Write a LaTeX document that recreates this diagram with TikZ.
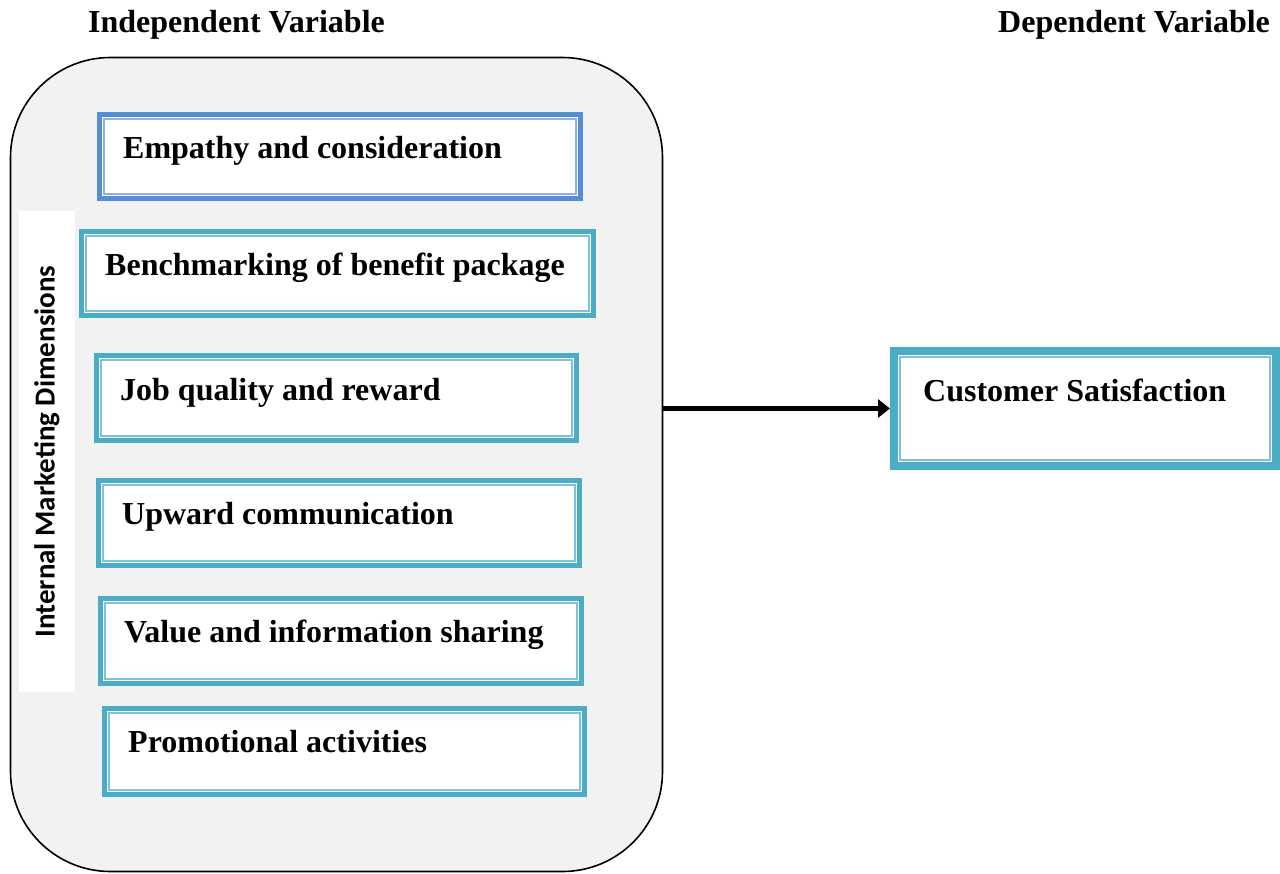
\documentclass[tikz,border=0pt]{standalone}
\usepackage{fontspec}
\setmainfont{Liberation Serif}
\newfontfamily\labelsans{Carlito}
\usetikzlibrary{arrows.meta}
\definecolor{panelgray}{HTML}{F2F2F2}
\definecolor{tealline}{HTML}{4BACC6}
\definecolor{tealinner}{HTML}{7DC3D6}
\definecolor{blueline}{HTML}{558ED5}
\definecolor{blueinner}{HTML}{8DB3E2}
\tikzset{
  x=1pt, y=-1pt,
  boxtext/.style={anchor=base west, inner sep=0pt, font=\fontsize{32}{38}\selectfont\bfseries},
  dimbox/.style={draw=tealline, fill=white, line width=5pt, inner sep=0pt},
  dimboxblue/.style={dimbox, draw=blueline},
  innerframe/.style={draw=tealinner, line width=1.5pt},
  innerframeblue/.style={innerframe, draw=blueinner},
}
% box given by outer pixel edges: left, top, right, bottom
\newcommand\dimframe[6]{%
  \node[#6, minimum width={#4-#2-5}, minimum height={#5-#3-5}]
    (#1) at ({(#2+#4)/2},{(#3+#5)/2}) {};
}
\begin{document}
\begin{tikzpicture}
\useasboundingbox (0,0) rectangle (1280,873);
\fill[white] (0,0) rectangle (1280,873);

% headings
\node[boxtext] (hind) at (88,32) {Independent Variable};
\node[boxtext] (hdep) at (998,32) {Dependent Variable};

% panel holding the dimensions
\node[draw=black, line width=1.6pt, fill=panelgray, rounded corners=100pt,
      minimum width=652pt, minimum height=814pt, inner sep=0pt]
  (panel) at (336.5,464.5) {};

% side label
\node[fill=white, minimum width=56pt, minimum height=481pt, inner sep=0pt]
  (band) at (47,451.5) {};
\node[rotate=90, inner sep=0pt, font=\fontsize{29}{34}\selectfont\labelsans\bfseries]
  (bandtext) at (band.center) {Internal Marketing Dimensions};

% dimension boxes
\dimframe{b1}{97}{112}{583}{201}{dimboxblue}
\dimframe{b2}{79}{229}{596}{318}{dimbox}
\dimframe{b3}{94}{353}{579}{443}{dimbox}
\dimframe{b4}{96}{478}{582}{568}{dimbox}
\dimframe{b5}{98}{596}{584}{686}{dimbox}
\dimframe{b6}{102}{706}{587}{797}{dimbox}

\draw[innerframeblue] ([shift={(7,7)}]b1.north west) rectangle ([shift={(-7,-7)}]b1.south east);
\foreach \b in {b2,b3,b4,b5,b6}
  \draw[innerframe] ([shift={(7,7)}]\b.north west) rectangle ([shift={(-7,-7)}]\b.south east);

\node[boxtext] (t1) at (123,158) {Empathy and consideration};
\node[boxtext] (t2) at (105,275) {Benchmarking of benefit package};
\node[boxtext] (t3) at (120,400) {Job quality and reward};
\node[boxtext] (t4) at (122,524) {Upward communication};
\node[boxtext] (t5) at (124,642) {Value and information sharing};
\node[boxtext] (t6) at (128,752) {Promotional activities};

% outcome box
\node[draw=tealline, fill=white, line width=8pt, inner sep=0pt,
      minimum width=382pt, minimum height=115pt]
  (cs) at (1085,408.5) {};
\draw[tealinner, line width=2pt] ([shift={(10,10)}]cs.north west) rectangle ([shift={(-10,-10)}]cs.south east);
\node[boxtext] (tcs) at (923,401) {Customer Satisfaction};

% relationship arrow
\draw[line width=5pt, -{Triangle[length=12pt,width=18pt]}]
  (cs.west -| panel.east) -- (cs.west);
\end{tikzpicture}
\end{document}
